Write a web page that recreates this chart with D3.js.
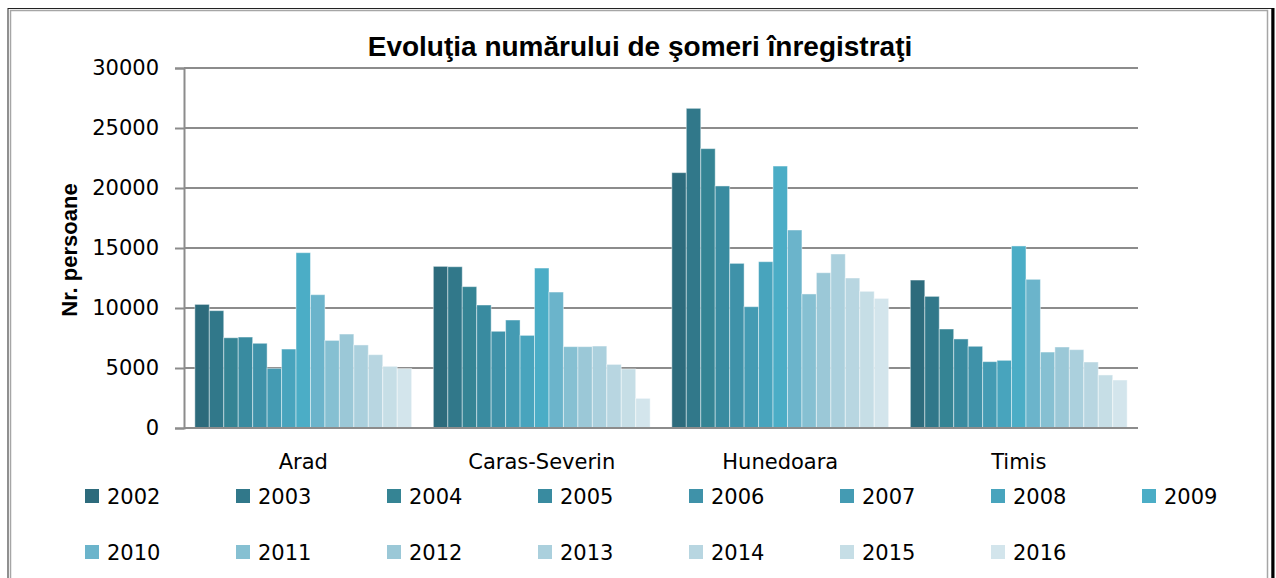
<!DOCTYPE html>
<html>
<head>
<meta charset="utf-8">
<script src="https://cdn.jsdelivr.net/npm/d3@7/dist/d3.min.js"></script>
<style>
  html, body { margin: 0; padding: 0; background: #fff; }
  svg { display: block; }
</style>
</head>
<body>
<svg id="chart" width="1276" height="578"></svg>
<script>
const categories = ["Arad", "Caras-Severin", "Hunedoara", "Timis"];
const years = ["2002","2003","2004","2005","2006","2007","2008","2009","2010","2011","2012","2013","2014","2015","2016"];
const arad        = [10300, 9780, 7520, 7580, 7060, 4970, 6580, 14610, 11110, 7300, 7830, 6920, 6110, 5140, 4950];
const carasSeverin = [13470, 13440, 11780, 10250, 8060, 9000, 7720, 13330, 11330, 6780, 6780, 6830, 5300, 4920, 2470];
const hunedoara   = [21280, 26640, 23280, 20170, 13720, 10110, 13860, 21830, 16500, 11170, 12940, 14500, 12500, 11390, 10800];
const timis       = [12330, 10970, 8250, 7420, 6810, 5530, 5640, 15170, 12390, 6330, 6750, 6530, 5500, 4420, 4000];
const yTicks = [0, 5000, 10000, 15000, 20000, 25000, 30000];
const colors = ["#2d6b7c","#31788a","#358494","#398ba0","#3f92a9","#449bb3","#48a4bd","#4badc6",
                "#6bb4cb","#86c0d2","#9bc8d7","#abd0dd","#b8d6e1","#c6dee6","#d3e5ec"];
const title = "Evoluţia numărului de şomeri înregistraţi";
const yTitle = "Nr. persoane";

const seriesByCat = [arad, carasSeverin, hunedoara, timis];
const FONT = "'DejaVu Sans', sans-serif";

const svg = d3.select("#chart");
const W = 1276, H = 578;
const margin = { left: 184, top: 68 };
const innerW = 1138 - 184, innerH = 428 - 68;

// frame
svg.append("rect").attr("x", 8).attr("y", 8.5).attr("width", 1264).attr("height", 600)
  .attr("fill", "none").attr("stroke", "#222").attr("stroke-width", 1);
svg.append("line").attr("x1", 1273).attr("x2", 1273).attr("y1", 8).attr("y2", 578)
  .attr("stroke", "#000").attr("stroke-width", 3);
svg.append("rect").attr("x", 10.5).attr("y", 10.5).attr("width", 1257).attr("height", 600)
  .attr("fill", "none").attr("stroke", "#a6a6a6").attr("stroke-width", 1.5);

const g = svg.append("g").attr("transform", `translate(${margin.left},${margin.top})`);

const x0 = d3.scaleBand().domain(categories).range([0, innerW])
  .paddingInner(1.5/16.5).paddingOuter(0.75/16.5);
const x1 = d3.scaleBand().domain(years).range([0, x0.bandwidth()]).padding(0);
const y = d3.scaleLinear().domain([0, 30000]).range([innerH, 0]);

// gridlines + y axis
const yAxis = d3.axisLeft(y).tickValues(yTicks).tickSize(9).tickPadding(16).tickFormat(d3.format("d"));
const ya = g.append("g").call(yAxis);
ya.select(".domain").attr("stroke", "#8c8c8c").attr("stroke-width", 2);
ya.selectAll(".tick line").attr("stroke", "#8c8c8c").attr("stroke-width", 2);
ya.selectAll(".tick text").attr("font-family", FONT)
  .attr("font-size", 21).attr("fill", "#000");

g.append("g").selectAll("line").data(yTicks).join("line")
  .attr("x1", 0).attr("x2", innerW)
  .attr("y1", d => y(d)).attr("y2", d => y(d))
  .attr("stroke", "#8c8c8c").attr("stroke-width", 2);

// bars
const groups = g.append("g").selectAll("g").data(categories).join("g")
  .attr("transform", d => `translate(${x0(d)},0)`);
groups.selectAll("rect").data((d, i) => seriesByCat[i].map((v, j) => ({ year: years[j], v, j })))
  .join("rect")
  .attr("x", d => x1(d.year))
  .attr("y", d => y(d.v))
  .attr("width", x1.bandwidth())
  .attr("height", d => y(0) - y(d.v))
  .attr("fill", d => colors[d.j])
  .attr("stroke", "rgba(255,255,255,0.45)")
  .attr("stroke-width", 1);

// x axis line
g.append("line").attr("x1", 0).attr("x2", innerW).attr("y1", y(0)).attr("y2", y(0))
  .attr("stroke", "#8c8c8c").attr("stroke-width", 2);

// category labels
const xAxis = d3.axisBottom(x0).tickSize(0).tickPadding(26);
const xa = g.append("g").attr("transform", `translate(0,${innerH})`).call(xAxis);
xa.select(".domain").remove();
xa.selectAll(".tick text").attr("font-family", FONT)
  .attr("font-size", 21).attr("fill", "#000");

// title
svg.append("text").attr("x", 640).attr("y", 56).attr("text-anchor", "middle")
  .attr("font-family", "'Liberation Sans', Arial, sans-serif").attr("font-weight", "bold")
  .attr("font-size", 28).attr("fill", "#000").text(title);

// y title
svg.append("text").attr("transform", "translate(77,250) rotate(-90)").attr("text-anchor", "middle")
  .attr("font-family", "'Liberation Sans', Arial, sans-serif").attr("font-weight", "bold")
  .attr("font-size", 22).attr("fill", "#000").text(yTitle);

// legend
const legend = svg.append("g");
const li = legend.selectAll("g").data(years).join("g")
  .attr("transform", (d, i) => `translate(${85 + (i % 8) * 151},${i < 8 ? 496 : 552})`);
li.append("rect").attr("x", 0).attr("y", -7).attr("width", 14).attr("height", 14)
  .attr("fill", (d, i) => colors[i]);
li.append("text").attr("x", 22).attr("y", 0).attr("dy", "0.36em")
  .attr("font-family", FONT).attr("font-size", 21).attr("fill", "#000")
  .text(d => d);
</script>
</body>
</html>
